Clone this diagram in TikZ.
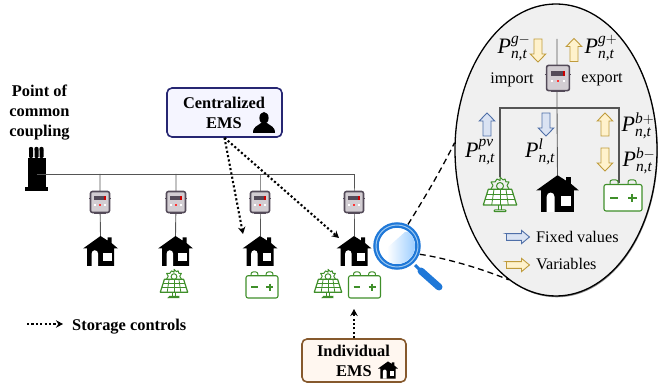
\documentclass[tikz,border=0pt]{standalone}
\usepackage{amsmath}
\usepackage{fontspec}
\setmainfont{Liberation Serif}
\usetikzlibrary{arrows.meta,shapes.geometric}
\definecolor{wirecol}{HTML}{555555}
\definecolor{pvgreen}{HTML}{3F8F2A}
\definecolor{meterbody}{HTML}{D2CDD2}
\definecolor{meterrim}{HTML}{544B59}
\definecolor{glassblue}{HTML}{1F78D8}
\definecolor{glasspale}{HTML}{9CC8F0}
\definecolor{fixedfill}{HTML}{DAE3F3}
\definecolor{fixedrim}{HTML}{4F6FA8}
\definecolor{varfill}{HTML}{FFF2CC}
\definecolor{varrim}{HTML}{BF9B3C}
\newcommand{\pflow}[1]{\textit{P}$^{\textit{#1}}_{\textit{n,t}}$}
\tikzset{
  wire/.style={draw=wirecol,line width=.9pt},
  ctrl/.style={line width=2.1pt,dash pattern=on 2.1pt off 2.3pt,-{Stealth[length=7pt,width=7.5pt]}},
  lens/.style={line width=1.3pt,dash pattern=on 6pt off 4pt},
  boldtxt/.style={font=\fontsize{16.4}{20}\selectfont\bfseries,align=center,inner sep=0},
  plaintxt/.style={font=\fontsize{16.2}{20}\selectfont,inner sep=0},
  flowtxt/.style={font=\fontsize{22}{26}\selectfont,inner sep=0},
  mtrbox/.style={inner sep=0,minimum width=#1*20,minimum height=#1*22},
  hsebox/.style={inner sep=0,minimum width=#1*35,minimum height=#1*30},
  pvbox/.style={inner sep=0,minimum width=#1*34,minimum height=#1*36},
  batbox/.style={inner sep=0,minimum width=#1*38,minimum height=#1*31},
  pics/flowarr/.style 2 args={code={
    \draw[draw=#1,fill=#2,line width=.9pt,line join=miter](-4,11.5) to (-4,-3.5) to (-7.8,-3.5) to (0,-11.5)
      to (7.8,-3.5) to (4,-3.5) to (4,11.5) to cycle;
  }},
  pics/meter/.style={code={
    \draw[meterrim,line width=1pt](-11,-3) to (11,-3);
    \draw[meterrim,line width=1pt](-6,11.5) to (6,11.5);
    \draw[meterrim,fill=meterbody,line width=1.6pt,rounded corners=2pt](-9.5,-10.5) rectangle (9.5,10.5);
    \fill[meterrim](-6,-5.5) rectangle (6,-1.5);
    \fill[red!80!black](4,-5.5) rectangle (6,-1.5);
    \fill[red!80](-.8,2) rectangle (.8,3.6);
    \fill[white](-6,2) rectangle (-4.4,3.6);
    \fill[white](4.4,2) rectangle (6,3.6);
  }},
  pics/house/.style={code={
    %%roof and walls
    \fill[black](0,-15) to (7,-10.5) to (7,-13.5) to (11,-13.5) to (11,-8) to (17.5,-2.5) to (13.5,-2.5)
      to (13.5,15) to (-13.5,15) to (-13.5,-2.5) to (-17.5,-2.5) to cycle;
    %%door
    \fill[white](-9,15) to (-9,3) .. controls (-9,-2) and (-2.3,-2) .. (-2.3,3) to (-2.3,15) to cycle;
    %%window
    \fill[white](2.7,2) rectangle (11,10);
  }},
  pics/solar/.style={code={
    %%sun
    \draw[pvgreen,line width=1pt,line join=round](-9,-6) to (-7,-9.5) to (-9,-13) to (-5,-13) to (-3,-16) to (0,-14.5)
      to (0,-18) to (3,-15) to (5,-16) to (6,-13) to (9,-13) to (7,-9.5) to (9,-6);
    \draw[pvgreen,line width=1pt](0,-9) circle (3.5);
    %%panel
    \draw[pvgreen,fill=white,line width=1.2pt,line join=round](-11.7,-5.7) to (11.7,-5.7) to (16.7,10) to (-16.7,10) to cycle;
    \draw[pvgreen,line width=.8pt](-13.2,-.5) to (13.2,-.5);
    \draw[pvgreen,line width=.8pt](-15,4.7) to (15,4.7);
    \draw[pvgreen,line width=.8pt](-6,-5.7) to (-8.3,10);
    \draw[pvgreen,line width=.8pt](0,-5.7) to (0,10);
    \draw[pvgreen,line width=.8pt](6,-5.7) to (8.3,10);
    %%stand
    \draw[pvgreen,line width=1pt](-1.5,10) to (-1.5,15);
    \draw[pvgreen,line width=1pt](1.5,10) to (1.5,15);
    \draw[pvgreen,line width=1pt,rounded corners=.8pt](-6,16.7) to (-6,15) to (6,15) to (6,16.7) to cycle;
  }},
  pics/battery/.style={code={
    \draw[pvgreen,line width=1pt,rounded corners=2pt](-13,-11) to (-13,-15.5) to (-5,-15.5) to (-5,-11);
    \draw[pvgreen,line width=1pt,rounded corners=2pt](5,-11) to (5,-15.5) to (13,-15.5) to (13,-11);
    \draw[pvgreen,fill=white,line width=1.1pt,rounded corners=2pt](-19,-11) rectangle (19,15.5);
    \draw[pvgreen,line width=1.9pt](-13,2.5) to (-5,2.5);
    \draw[pvgreen,line width=1.9pt](5,2.5) to (13.5,2.5);
    \draw[pvgreen,line width=1.9pt](9.2,-1.7) to (9.2,6.7);
  }},
}
\begin{document}
\begin{tikzpicture}[x=1pt,y=-1pt]
      \useasboundingbox (0,0) rectangle (661,387);
      \node[boldtxt](pccText) at (39.5,113){Point of\\common\\coupling};
      %%transformer
      \fill(31,149) circle (2.2);
      \fill(36.5,149) circle (2.2);
      \fill(41.5,149) circle (2.2);
      \fill[rounded corners=1pt](29,149) rectangle (33,158);
      \fill[rounded corners=1pt](34.5,149) rectangle (38.5,158);
      \fill[rounded corners=1pt](39.5,149) rectangle (43.5,158);
      \node[inner sep=0,minimum width=18,minimum height=29,fill=black](xfmr) at (36.5,173){};
      \fill(25,187) rectangle (48,191);

      %%feeder nodes
      \node[mtrbox=1](mtrA) at (100,202){};
      \node[mtrbox=1](mtrB) at (176,202){};
      \node[mtrbox=1](mtrC) at (260,202){};
      \node[mtrbox=1](mtrD) at (354,202){};
      \node[hsebox=1](hseA) at (100.5,251){};
      \node[hsebox=1](hseB) at (175.5,251){};
      \node[hsebox=1](hseC) at (260,251){};
      \node[hsebox=1](hseD) at (354,251){};
      \coordinate(busD) at (354,174);
      \draw[wire](xfmr.center |- busD) to (busD) to (mtrD.center) to (hseD.north);
      \draw[wire](mtrA.center |- busD) to (mtrA.center) to (hseA.north);
      \draw[wire](mtrB.center |- busD) to (mtrB.center) to (hseB.north);
      \draw[wire](mtrC.center |- busD) to (mtrC.center) to (hseC.north);
      \pic at (mtrA){meter};
      \pic at (mtrB){meter};
      \pic at (mtrC){meter};
      \pic at (mtrD){meter};
      \pic at (hseA){house};
      \pic at (hseB){house};
      \pic at (hseC){house};
      \pic at (hseD){house};
      %%devices under the houses
      \node[pvbox=.82](pvB) at (174,284){};
      \pic[scale=.82] at (pvB){solar};
      \node[batbox=.84](batC) at (262,285){};
      \pic[scale=.84] at (batC){battery};
      \node[pvbox=.82](pvD) at (328,284){};
      \pic[scale=.82] at (pvD){solar};
      \node[batbox=.84](batD) at (364.5,285){};
      \pic[scale=.84] at (batD){battery};

      %%EMS boxes
      \node[draw=blue!35!black!85,fill=blue!4,line width=1.6pt,rounded corners=5pt,inner sep=0,
        minimum width=115,minimum height=49](cemsBox) at (224.5,112.5){};
      \node[boldtxt](cemsText) at (224,103){Centralized};
      \node[boldtxt](cemsEms) at (224,123){EMS};
      \fill(264,118) ellipse (4.6 and 6);
      \fill(253,133) .. controls (253,126) and (258,126) .. (261,123) to (267,123) .. controls (270,126) and (275,126) .. (275,133) to cycle;
      \node[draw=brown!70!black,fill=orange!6,line width=1.6pt,rounded corners=5pt,inner sep=0,
        minimum width=104,minimum height=43](iemsBox) at (354,360.5){};
      \node[boldtxt](iemsText) at (353.5,351){Individual};
      \node[boldtxt](iemsEms) at (354,371){EMS};
      \pic[scale=.57] at (388,370){house};

      %%storage control arrows
      \coordinate(ctrlC) at (243,234);
      \coordinate(ctrlD) at (339,238);
      \coordinate(ctrlI) at (354,309);
      \draw[ctrl](cemsBox.south) to (ctrlC);
      \draw[ctrl](cemsBox.south) to (ctrlD);
      \draw[ctrl](iemsBox.north) to (ctrlI);
      \coordinate(legA) at (27,324);
      \coordinate(legB) at (63,324);
      \draw[ctrl](legA) to (legB);
      \node[boldtxt,anchor=west](legText) at (72,327){Storage controls};

      %%zoomed view
      \fill[black!45](556.8,150.8) ellipse (101 and 146.5);
      \node[shape=ellipse,draw=black,fill=black!6,line width=1.3pt,inner sep=0,
        minimum width=202,minimum height=292](zoomOval) at (556,150){};
      \node[mtrbox=1.2](mtrZ) at (558,78){};
      \coordinate(wireTop) at (557,39);
      \node[pvbox=1](pvZ) at (500,195){};
      \node[hsebox=1.22](hseZ) at (557.5,193.5){};
      \node[batbox=1](batZ) at (623,195.5){};
      \coordinate(busZ) at (557,108);
      \coordinate(busR) at (619,108);
      \coordinate(dropR) at (619,183);
      \draw[wire](wireTop) to (busZ) to (hseZ.north);
      \draw[wire,line width=1.2pt](pvZ.north) to (pvZ.north |- busZ) to (busR) to (dropR);
      \pic[scale=1.2] at (mtrZ){meter};
      \pic[scale=1.22] at (hseZ){house};
      \pic at (pvZ){solar};
      \pic at (batZ){battery};
      %%flow arrows
      \pic[rotate=180] at (538,50.5){flowarr={varrim}{varfill}};
      \pic at (574,50){flowarr={varrim}{varfill}};
      \pic at (487,124.5){flowarr={fixedrim}{fixedfill}};
      \pic[rotate=180] at (546,124.5){flowarr={fixedrim}{fixedfill}};
      \pic at (605,124.5){flowarr={varrim}{varfill}};
      \pic[rotate=180] at (605,159.5){flowarr={varrim}{varfill}};
      \node[flowtxt](lblGm) at (514,48){\pflow{g$-$}};
      \node[flowtxt](lblGp) at (601,48){\pflow{g$+$}};
      \node[flowtxt](lblBp) at (638,126){\pflow{b$+$}};
      \node[flowtxt](lblBm) at (639,161){\pflow{b$-$}};
      \node[flowtxt](lblPv) at (480,152){\pflow{pv}};
      \node[flowtxt](lblL) at (540,152){\pflow{l}};
      \node[plaintxt](txtImp) at (512,80){import};
      \node[plaintxt](txtExp) at (602,80){export};
      %%legend of the view
      \pic[rotate=-90,xscale=.85] at (518,237){flowarr={fixedrim}{fixedfill}};
      \pic[rotate=-90,xscale=.85] at (518,265){flowarr={varrim}{varfill}};
      \node[plaintxt,anchor=west](txtFix) at (536,237){Fixed values};
      \node[plaintxt,anchor=west](txtVar) at (536,264){Variables};

      %%magnifier
      \node[shape=circle,inner sep=0,minimum size=48](glass) at (397,246){};
      \draw[lens](glass.63) .. controls (425,197) and (440,172) .. (zoomOval.176);
      \draw[lens](glass.-20) .. controls (445,258) and (480,268) .. (zoomOval.250);
      \draw[glassblue,line width=3pt](415,265) to (420,270);
      \draw[glassblue,line width=7pt,line cap=round](421,271) to (439,287);
      \draw[glassblue,fill=white,line width=5.5pt](glass) circle (21);
      \draw[glasspale,line width=1pt](glass) circle (21);
      \begin{scope}
        \clip(glass) circle (18);
        \shade[left color=white,right color=blue!50!cyan!40](387,248) to (405,232) to (416,232) to (416,265) to (387,265) to cycle;
      \end{scope}
\end{tikzpicture}
\end{document}
